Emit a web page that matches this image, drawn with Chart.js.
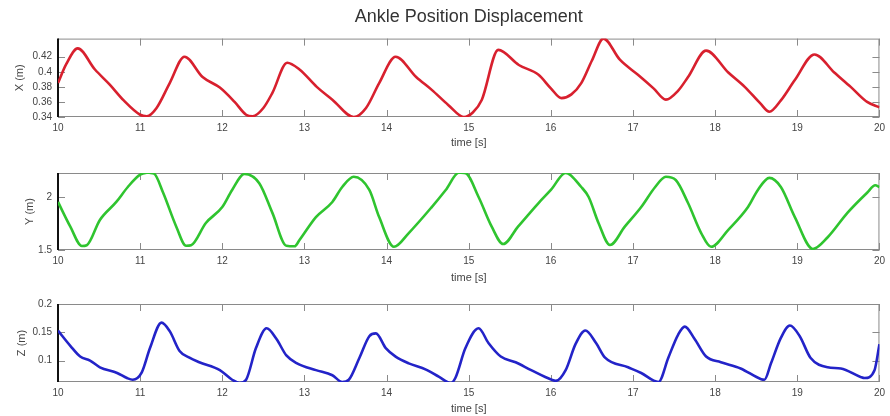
<!DOCTYPE html>
<html>
<head>
<meta charset="utf-8">
<script src="https://cdn.jsdelivr.net/npm/chart.js@4.4.1/dist/chart.umd.min.js"></script>
<style>
  html, body { margin: 0; padding: 0; background: #fff; }
  #wrap { position: relative; width: 890px; height: 416px; }
  canvas { position: absolute; left: 0; }
</style>
</head>
<body>
<div id="wrap">
  <canvas id="chartX" width="890" height="150" style="top:0px"></canvas>
  <canvas id="chartY" width="890" height="135" style="top:150px"></canvas>
  <canvas id="chartZ" width="890" height="131" style="top:285px"></canvas>
</div>
<script>
// time ticks (s)
const timeTicks = [10, 11, 12, 13, 14, 15, 16, 17, 18, 19, 20];

// X position (m)
const timeX = [10.0, 10.1, 10.24, 10.45, 10.63, 10.8, 11.0, 11.08, 11.2, 11.36, 11.54, 11.76, 11.97, 12.15, 12.29, 12.37, 12.5, 12.61, 12.79, 12.94,
  13.15, 13.34, 13.6, 13.75, 13.91, 14.11, 14.36, 14.55, 14.75, 14.94, 15.05, 15.16, 15.36, 15.61, 15.85, 16.0, 16.13, 16.25, 16.37, 16.5,
  16.64, 16.84, 17.06, 17.25, 17.4, 17.55, 17.67, 17.89, 18.16, 18.36, 18.55, 18.66, 18.8, 18.97, 19.21, 19.45, 19.65, 19.85, 20.0];
const valuesX = [0.385, 0.410, 0.431, 0.403, 0.383, 0.362, 0.343, 0.341, 0.352, 0.385, 0.420, 0.393, 0.379, 0.360, 0.343, 0.341, 0.352, 0.372, 0.412, 0.403,
  0.380, 0.363, 0.340, 0.352, 0.385, 0.420, 0.393, 0.376, 0.356, 0.340, 0.346, 0.363, 0.429, 0.409, 0.396, 0.378, 0.365, 0.370, 0.385, 0.415,
  0.444, 0.416, 0.396, 0.378, 0.363, 0.375, 0.393, 0.428, 0.399, 0.380, 0.358, 0.347, 0.362, 0.389, 0.423, 0.399, 0.380, 0.360, 0.353];
const ticksX = [0.34, 0.36, 0.38, 0.4, 0.42];

// Y position (m)
const timeY = [10.0, 10.15, 10.29, 10.35, 10.51, 10.71, 10.85, 11.0, 11.1, 11.17, 11.28, 11.44, 11.56, 11.62, 11.8, 12.0, 12.12, 12.27, 12.45, 12.61,
  12.78, 12.88, 12.94, 13.14, 13.34, 13.46, 13.6, 13.79, 13.91, 14.09, 14.27, 14.55, 14.72, 14.88, 14.96, 15.12, 15.28, 15.42, 15.6, 15.85,
  16.0, 16.18, 16.37, 16.46, 16.58, 16.72, 16.9, 17.1, 17.27, 17.4, 17.52, 17.67, 17.83, 17.95, 18.16, 18.4, 18.52, 18.66, 18.8, 18.97,
  19.19, 19.37, 19.61, 19.85, 19.95, 20.0];
const valuesY = [1.953, 1.72, 1.538, 1.545, 1.783, 1.953, 2.094, 2.21, 2.23, 2.22, 2.04, 1.72, 1.54, 1.545, 1.755, 1.905, 2.066, 2.217, 2.13, 1.85,
  1.54, 1.535, 1.594, 1.81, 1.953, 2.094, 2.19, 2.066, 1.81, 1.53, 1.66, 1.905, 2.066, 2.23, 2.225, 2.0, 1.72, 1.556, 1.72, 1.943,
  2.066, 2.226, 2.094, 2.0, 1.755, 1.547, 1.72, 1.905, 2.094, 2.19, 2.16, 1.943, 1.66, 1.53, 1.69, 1.905, 2.066, 2.18, 2.094, 1.81,
  1.51, 1.62, 1.85, 2.04, 2.11, 2.094];
const ticksY = [1.5, 2];

// Z position (m)
const timeZ = [10.0, 10.15, 10.27, 10.39, 10.51, 10.72, 10.84, 10.91, 11.02, 11.12, 11.26, 11.36, 11.48, 11.6, 11.72, 11.97, 12.12, 12.21, 12.29, 12.41,
  12.54, 12.66, 12.78, 12.91, 13.14, 13.34, 13.46, 13.54, 13.67, 13.79, 13.87, 13.99, 14.11, 14.27, 14.48, 14.64, 14.78, 14.84, 14.96, 15.12,
  15.24, 15.39, 15.57, 15.76, 16.01, 16.06, 16.18, 16.3, 16.42, 16.55, 16.66, 16.94, 17.1, 17.31, 17.43, 17.55, 17.63, 17.75, 17.89, 18.07,
  18.31, 18.56, 18.6, 18.68, 18.8, 18.91, 19.03, 19.16, 19.37, 19.53, 19.77, 19.82, 19.94, 20.0];
const valuesZ = [0.153, 0.126, 0.107, 0.100, 0.088, 0.078, 0.069, 0.066, 0.079, 0.122, 0.167, 0.152, 0.117, 0.105, 0.097, 0.083, 0.066, 0.060, 0.066, 0.122,
  0.157, 0.138, 0.109, 0.095, 0.083, 0.074, 0.062, 0.066, 0.105, 0.143, 0.148, 0.122, 0.107, 0.095, 0.084, 0.071, 0.060, 0.070, 0.122, 0.157,
  0.131, 0.107, 0.097, 0.083, 0.066, 0.064, 0.083, 0.129, 0.153, 0.131, 0.105, 0.088, 0.078, 0.062, 0.105, 0.146, 0.160, 0.138, 0.107, 0.097,
  0.086, 0.067, 0.066, 0.095, 0.140, 0.162, 0.143, 0.105, 0.088, 0.086, 0.071, 0.069, 0.083, 0.129];
const ticksZ = [0.1, 0.15, 0.2];

const FONT = "'Liberation Sans', Arial, sans-serif";

// matlab style box with inward ticks
const boxPlugin = {
    id: 'box',
    beforeDatasetsDraw(chart) {
        const { ctx, chartArea: a, scales } = chart;
        ctx.save();
        ctx.strokeStyle = '#8a8a8a';
        ctx.lineWidth = 1;
        ctx.strokeRect(a.left + 0.5, a.top + 0.5, a.width - 1, a.height - 1);
        ctx.beginPath();
        scales.x.ticks.forEach(t => {
            const px = Math.round(scales.x.getPixelForValue(t.value)) + 0.5;
            ctx.moveTo(px, a.bottom); ctx.lineTo(px, a.bottom - 7);
            ctx.moveTo(px, a.top); ctx.lineTo(px, a.top + 7);
        });
        scales.y.ticks.forEach(t => {
            const py = Math.round(scales.y.getPixelForValue(t.value)) + 0.5;
            ctx.moveTo(a.left, py); ctx.lineTo(a.left + 7, py);
            ctx.moveTo(a.right, py); ctx.lineTo(a.right - 7, py);
        });
        ctx.stroke();
        ctx.strokeStyle = '#111';
        ctx.lineWidth = 2;
        ctx.beginPath();
        ctx.moveTo(a.left, a.top); ctx.lineTo(a.left, a.bottom);
        ctx.stroke();
        ctx.restore();
    }
};

function makeChart(id, times, values, color, yLabel, yMin, yMax, yTicks, lay) {
    const ctx = document.getElementById(id).getContext('2d');
    return new Chart(ctx, {
        type: 'line',
        data: {
            datasets: [{
                data: times.map((t, i) => ({ x: t, y: values[i] })),
                borderColor: color,
                borderWidth: 2.6,
                pointRadius: 0,
                fill: false,
                cubicInterpolationMode: 'monotone'
            }]
        },
        options: {
            responsive: false,
            animation: false,
            events: [],
            layout: { padding: { top: lay.top, right: 8, bottom: 0, left: 0 } },
            plugins: {
                legend: { display: false },
                tooltip: { enabled: false },
                title: {
                    display: !!lay.title,
                    text: lay.title || '',
                    fullSize: false,
                    color: '#333',
                    font: { family: FONT, size: 18, weight: 'normal' },
                    padding: { top: 6, bottom: 11 }
                }
            },
            scales: {
                x: {
                    type: 'linear',
                    min: 10,
                    max: 20,
                    grid: { display: false, drawTicks: false },
                    border: { display: false },
                    afterBuildTicks: s => { s.ticks = timeTicks.map(v => ({ value: v })); },
                    afterFit: s => { s.height = lay.xh; },
                    ticks: {
                        padding: 5,
                        color: '#444',
                        font: { family: FONT, size: 10 },
                        maxRotation: 0,
                        callback: v => String(v)
                    },
                    title: {
                        display: true,
                        text: 'time [s]',
                        color: '#444',
                        font: { family: FONT, size: 11 },
                        padding: { top: 0, bottom: 0 }
                    }
                },
                y: {
                    min: yMin,
                    max: yMax,
                    grid: { display: false, drawTicks: false },
                    border: { display: false },
                    afterBuildTicks: s => { s.ticks = yTicks.map(v => ({ value: v })); },
                    afterFit: s => { s.width = 58; },
                    ticks: {
                        padding: 6,
                        color: '#444',
                        font: { family: FONT, size: 10 },
                        callback: v => String(+v.toFixed(3))
                    },
                    title: {
                        display: true,
                        text: yLabel,
                        color: '#444',
                        font: { family: FONT, size: 11 },
                        padding: { top: lay.yt, bottom: 0 }
                    }
                }
            }
        },
        plugins: [boxPlugin]
    });
}

makeChart('chartX', timeX, valuesX, '#d8202e', 'X (m)', 0.34, 0.444, ticksX,
    { top: 0, xh: 33, yt: 13, title: 'Ankle Position Displacement' });
makeChart('chartY', timeY, valuesY, '#2fc42f', 'Y (m)', 1.5, 2.226, ticksY,
    { top: 23, xh: 35, yt: 23 });
makeChart('chartZ', timeZ, valuesZ, '#2323c8', 'Z (m)', 0.062, 0.2, ticksZ,
    { top: 19, xh: 34, yt: 15 });
</script>
</body>
</html>
